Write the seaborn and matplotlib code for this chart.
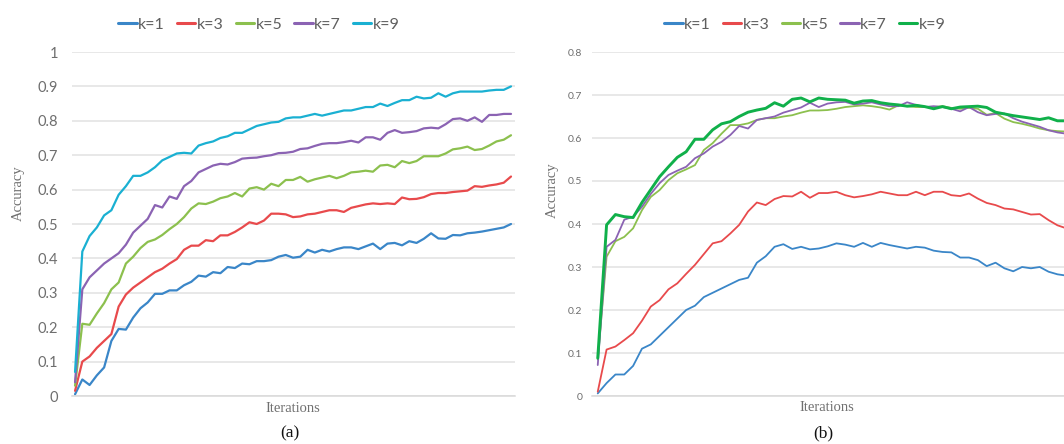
import numpy as np
import pandas as pd
import matplotlib
matplotlib.use("Agg")
import matplotlib.pyplot as plt
import seaborn as sns

# ---------------- data ----------------
series_names = ["k=1", "k=3", "k=5", "k=7", "k=9"]

# panel (a)
a_k1 = [0.005, 0.048, 0.032, 0.06, 0.083, 0.16, 0.195, 0.193, 0.228, 0.255,
        0.272, 0.297, 0.297, 0.307, 0.307, 0.322, 0.332, 0.35, 0.347, 0.36,
        0.357, 0.375, 0.372, 0.385, 0.383, 0.392, 0.392, 0.395, 0.405, 0.41,
        0.402, 0.405, 0.425, 0.417, 0.425, 0.42, 0.427, 0.432, 0.432, 0.427,
        0.435, 0.443, 0.427, 0.443, 0.445, 0.438, 0.45, 0.445, 0.457, 0.473,
        0.458, 0.457, 0.468, 0.467, 0.473, 0.475, 0.478, 0.482, 0.486, 0.49, 0.5]
a_k3 = [0.015, 0.10, 0.115, 0.14, 0.16, 0.18, 0.26, 0.295, 0.315, 0.33,
        0.345, 0.36, 0.37, 0.385, 0.398, 0.425, 0.437, 0.437, 0.453, 0.45,
        0.467, 0.467, 0.477, 0.49, 0.505, 0.50, 0.51, 0.53, 0.53, 0.528,
        0.52, 0.522, 0.528, 0.53, 0.535, 0.54, 0.54, 0.535, 0.547, 0.552,
        0.557, 0.56, 0.558, 0.56, 0.558, 0.577, 0.572, 0.573, 0.578, 0.587,
        0.59, 0.59, 0.593, 0.595, 0.597, 0.61, 0.608, 0.612, 0.615, 0.62, 0.638]
a_k5 = [0.03, 0.21, 0.207, 0.24, 0.27, 0.31, 0.33, 0.385, 0.405, 0.43,
        0.448, 0.455, 0.468, 0.485, 0.50, 0.52, 0.545, 0.56, 0.558, 0.565,
        0.575, 0.58, 0.59, 0.58, 0.603, 0.607, 0.60, 0.617, 0.61, 0.628,
        0.628, 0.637, 0.623, 0.63, 0.635, 0.64, 0.633, 0.64, 0.65, 0.652,
        0.655, 0.652, 0.67, 0.672, 0.665, 0.683, 0.677, 0.683, 0.697, 0.697,
        0.697, 0.705, 0.717, 0.72, 0.725, 0.715, 0.718, 0.728, 0.74, 0.745, 0.758]
a_k7 = [0.04, 0.31, 0.345, 0.365, 0.385, 0.40, 0.415, 0.44, 0.475, 0.495,
        0.515, 0.555, 0.548, 0.58, 0.573, 0.61, 0.625, 0.65, 0.66, 0.67,
        0.675, 0.673, 0.68, 0.69, 0.692, 0.693, 0.697, 0.70, 0.706, 0.707,
        0.71, 0.718, 0.72, 0.727, 0.733, 0.735, 0.735, 0.738, 0.742, 0.737,
        0.752, 0.752, 0.745, 0.765, 0.773, 0.765, 0.767, 0.77, 0.778, 0.78,
        0.778, 0.79, 0.805, 0.807, 0.80, 0.81, 0.797, 0.817, 0.817, 0.82, 0.82]
a_k9 = [0.07, 0.42, 0.465, 0.49, 0.525, 0.54, 0.585, 0.61, 0.64, 0.64,
        0.65, 0.665, 0.685, 0.695, 0.705, 0.707, 0.705, 0.728, 0.735, 0.74,
        0.75, 0.755, 0.765, 0.765, 0.775, 0.785, 0.79, 0.795, 0.797, 0.807,
        0.81, 0.81, 0.815, 0.82, 0.815, 0.82, 0.825, 0.83, 0.83, 0.835,
        0.84, 0.84, 0.85, 0.843, 0.852, 0.86, 0.86, 0.87, 0.865, 0.867,
        0.88, 0.87, 0.88, 0.885, 0.885, 0.885, 0.885, 0.888, 0.89, 0.89, 0.9]

# panel (b)
b_k1 = [0.006, 0.03, 0.05, 0.05, 0.07, 0.11, 0.12, 0.14, 0.16, 0.18,
        0.20, 0.21, 0.23, 0.24, 0.25, 0.26, 0.27, 0.275, 0.31, 0.325,
        0.347, 0.353, 0.342, 0.347, 0.341, 0.343, 0.348, 0.355, 0.352, 0.347,
        0.356, 0.347, 0.356, 0.351, 0.347, 0.343, 0.347, 0.345, 0.338, 0.335,
        0.334, 0.322, 0.322, 0.316, 0.302, 0.31, 0.297, 0.29, 0.30, 0.297,
        0.30, 0.289, 0.283, 0.28]
b_k3 = [0.01, 0.108, 0.115, 0.13, 0.146, 0.175, 0.208, 0.223, 0.248, 0.262,
        0.284, 0.305, 0.33, 0.355, 0.36, 0.378, 0.398, 0.429, 0.45, 0.444,
        0.458, 0.465, 0.464, 0.475, 0.461, 0.472, 0.472, 0.475, 0.467, 0.462,
        0.465, 0.469, 0.475, 0.471, 0.467, 0.467, 0.475, 0.467, 0.475, 0.475,
        0.467, 0.465, 0.471, 0.459, 0.449, 0.444, 0.436, 0.434, 0.428, 0.422,
        0.423, 0.409, 0.397, 0.39]
b_k5 = [0.085, 0.324, 0.36, 0.37, 0.39, 0.432, 0.463, 0.479, 0.502, 0.518,
        0.527, 0.537, 0.572, 0.588, 0.61, 0.63, 0.63, 0.634, 0.642, 0.646,
        0.646, 0.65, 0.653, 0.659, 0.664, 0.664, 0.665, 0.668, 0.672, 0.674,
        0.676, 0.674, 0.671, 0.666, 0.676, 0.674, 0.672, 0.672, 0.672, 0.674,
        0.67, 0.668, 0.67, 0.668, 0.654, 0.658, 0.645, 0.637, 0.633, 0.628,
        0.622, 0.618, 0.616, 0.615]
b_k7 = [0.072, 0.347, 0.363, 0.41, 0.417, 0.44, 0.47, 0.495, 0.514, 0.524,
        0.533, 0.553, 0.564, 0.58, 0.591, 0.607, 0.628, 0.622, 0.642, 0.646,
        0.65, 0.659, 0.665, 0.671, 0.682, 0.672, 0.68, 0.683, 0.684, 0.678,
        0.68, 0.683, 0.678, 0.674, 0.674, 0.683, 0.677, 0.672, 0.674, 0.672,
        0.668, 0.662, 0.672, 0.66, 0.653, 0.656, 0.657, 0.646, 0.638, 0.632,
        0.626, 0.618, 0.613, 0.61]
b_k9 = [0.088, 0.398, 0.422, 0.417, 0.415, 0.45, 0.48, 0.51, 0.533, 0.555,
        0.568, 0.597, 0.597, 0.619, 0.633, 0.638, 0.65, 0.66, 0.665, 0.669,
        0.682, 0.674, 0.69, 0.693, 0.684, 0.693, 0.69, 0.689, 0.688, 0.681,
        0.686, 0.687, 0.682, 0.679, 0.677, 0.674, 0.676, 0.673, 0.668, 0.673,
        0.668, 0.672, 0.673, 0.674, 0.671, 0.66, 0.656, 0.652, 0.649, 0.646,
        0.643, 0.647, 0.64, 0.64]

a_ticks = [0, 0.1, 0.2, 0.3, 0.4, 0.5, 0.6, 0.7, 0.8, 0.9, 1]
a_ticklabels = ["0", "0.1", "0.2", "0.3", "0.4", "0.5", "0.6", "0.7", "0.8", "0.9", "1"]
b_ticks = [0, 0.1, 0.2, 0.3, 0.4, 0.5, 0.6, 0.7, 0.8]
b_ticklabels = ["0", "0.1", "0.2", "0.3", "0.4", "0.5", "0.6", "0.7", "0.8"]

x_label = "Iterations"
y_label = "Accuracy"
captions = ["(a)", "(b)"]

colors_a = {"k=1": "#3a86c8", "k=3": "#e84a4c", "k=5": "#8cc04e",
            "k=7": "#8b63b3", "k=9": "#1ab0d2"}
colors_b = {"k=1": "#3a86c8", "k=3": "#e84a4c", "k=5": "#8cc04e",
            "k=7": "#8b63b3", "k=9": "#10b04a"}


def to_long(series_list):
    rows = []
    for name, vals in zip(series_names, series_list):
        for i, v in enumerate(vals):
            rows.append({"iter": i, "acc": v, "k": name})
    return pd.DataFrame(rows)


df_a = to_long([a_k1, a_k3, a_k5, a_k7, a_k9])
df_b = to_long([b_k1, b_k3, b_k5, b_k7, b_k9])

# ---------------- plot ----------------
sns.set_style("white")
plt.rcParams["font.family"] = ["Lato", "DejaVu Sans"]
W, H = 1064, 444
fig = plt.figure(figsize=(W / 100, H / 100), dpi=100)

def px_axes(x0, x1, ytop, ybot):
    return fig.add_axes([x0 / W, 1 - ybot / H, (x1 - x0) / W, (ybot - ytop) / H])

ax_a = px_axes(72, 515, 52, 396)
ax_b = px_axes(592, 1076, 52, 396)

tick_color = "#6e6e6e"
grid_color = "#e2e2e2"
serif = ["Liberation Serif", "DejaVu Serif"]

for ax, df, pal, ticks, tlabels, ymax, lw9, lw, tsize, tpad in [
        (ax_a, df_a, colors_a, a_ticks, a_ticklabels, 1.0, 1.6, 1.6, 10.5, 10),
        (ax_b, df_b, colors_b, b_ticks, b_ticklabels, 0.8, 2.1, 1.3, 7.5, 7)]:
    sns.lineplot(data=df, x="iter", y="acc", hue="k", palette=pal, ax=ax,
                 legend=False, linewidth=lw, estimator=None)
    for line, name in zip(ax.get_lines(), series_names):
        if name == "k=9":
            line.set_linewidth(lw9)
        line.set_solid_joinstyle("round")
    ax.set_ylim(0, ymax)
    ax.set_yticks(ticks)
    ax.set_yticklabels(tlabels)
    ax.set_xticks([])
    ax.grid(axis="y", color=grid_color, linewidth=1.1)
    ax.set_axisbelow(True)
    for s in ["top", "right", "left"]:
        ax.spines[s].set_visible(False)
    ax.spines["bottom"].set_color("#d9d9d9")
    ax.spines["bottom"].set_linewidth(1.1)
    ax.tick_params(axis="y", length=0, pad=tpad, labelsize=tsize, labelcolor=tick_color)
    ax.set_xlabel("")
    ax.set_ylabel("")

ax_a.set_xlim(-0.42, 60.55)
ax_b.set_xlim(-0.65, 54.1)

# axis titles
fig.text(18 / W, 1 - 193 / H, y_label, rotation=90, ha="center", va="center",
         fontsize=10.5, color="#707070", family=serif)
fig.text(552 / W, 1 - 190 / H, y_label, rotation=90, ha="center", va="center",
         fontsize=10.5, color="#707070", family=serif)
fig.text(293 / W, 1 - 408 / H, x_label, ha="center", va="center",
         fontsize=10.5, color="#707070", family=serif)
fig.text(827 / W, 1 - 407 / H, x_label, ha="center", va="center",
         fontsize=10.5, color="#707070", family=serif)

# captions
fig.text(290 / W, 1 - 433 / H, captions[0], ha="center", va="center",
         fontsize=12.5, color="#111111", family=serif)
fig.text(823 / W, 1 - 433 / H, captions[1], ha="center", va="center",
         fontsize=12.5, color="#111111", family=serif)

# legends
from matplotlib.lines import Line2D
for pal, xc in [(colors_a, 259), (colors_b, 805)]:
    handles = [Line2D([], [], color=pal[n], linewidth=2.2) for n in series_names]
    leg = fig.legend(handles, series_names, loc="center",
                     bbox_to_anchor=(xc / W, 1 - 25 / H), ncol=5, frameon=False,
                     fontsize=11.5, handlelength=1.15, handletextpad=0.1,
                     columnspacing=0.75, borderpad=0.0)
    for t in leg.get_texts():
        t.set_color("#5f5f5f")

fig.savefig("out.png", dpi=100)
